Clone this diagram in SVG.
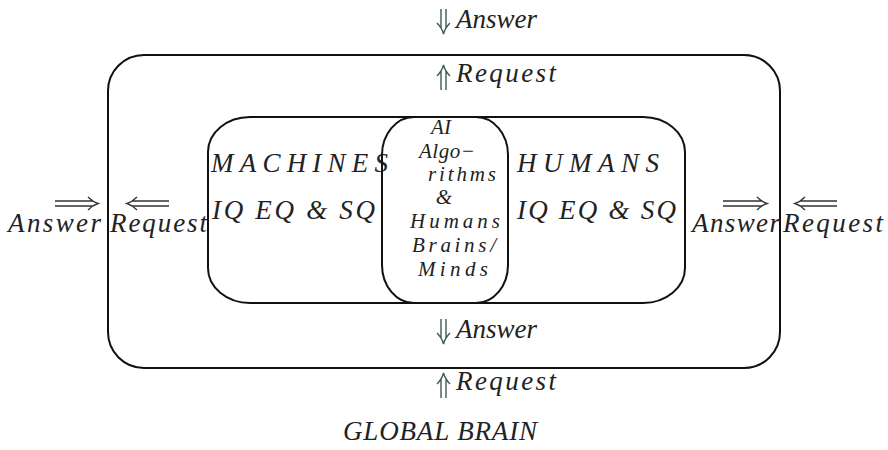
<svg xmlns="http://www.w3.org/2000/svg" width="888" height="450" viewBox="0 0 888 450">
<style>
.box{fill:none;stroke:#111;stroke-width:2}
.arr{fill:none;stroke:#333;stroke-width:1.4}
.varr{fill:none;stroke:#3d5e50;stroke-width:1.4}
</style>
<rect width="888" height="450" fill="#fff"/>
<g font-family="Liberation Serif" font-style="italic" font-size="27" fill="#222">
<g id="global-brain">
<rect class="box" x="108" y="55" width="672" height="313" rx="36" ry="36"/>
<text x="343" y="440" textLength="194" lengthAdjust="spacing">GLOBAL BRAIN</text>
</g>
<g id="inner">
<rect class="box" x="208" y="117" width="477" height="186" rx="42" ry="35"/>
</g>
<g id="machines">
<text x="211" y="172" textLength="177" lengthAdjust="spacing">MACHINES</text>
<text x="212" y="219" textLength="163" lengthAdjust="spacing">IQ EQ &amp; SQ</text>
</g>
<g id="humans">
<text x="517" y="172" textLength="142" lengthAdjust="spacing">HUMANS</text>
<text x="517" y="219" textLength="159" lengthAdjust="spacing">IQ EQ &amp; SQ</text>
</g>
<g id="ai-core" font-size="21">
<rect class="box" x="382" y="117" width="126" height="186" rx="32" ry="38"/>
<text x="441" y="134" text-anchor="middle">AI</text>
<text x="419" y="158" textLength="56" lengthAdjust="spacing">Algo−</text>
<text x="428" y="181" textLength="68" lengthAdjust="spacing">rithms</text>
<text x="444" y="204" text-anchor="middle">&amp;</text>
<text x="410" y="228" textLength="90" lengthAdjust="spacing">Humans</text>
<text x="412" y="252" textLength="84" lengthAdjust="spacing">Brains/</text>
<text x="418" y="276" textLength="70" lengthAdjust="spacing">Minds</text>
</g>
<g id="labels">
<text x="456" y="28" textLength="81" lengthAdjust="spacing">Answer</text>
<text x="456" y="82" textLength="100" lengthAdjust="spacing">Request</text>
<text x="456" y="338" textLength="81" lengthAdjust="spacing">Answer</text>
<text x="456" y="390" textLength="100" lengthAdjust="spacing">Request</text>
<text x="8" y="232" textLength="93" lengthAdjust="spacing">Answer</text>
<text x="110" y="232" textLength="97" lengthAdjust="spacing">Request</text>
<text x="692" y="232" textLength="88" lengthAdjust="spacing">Answer</text>
<text x="783" y="232" textLength="100" lengthAdjust="spacing">Request</text>
</g>
</g>
<g id="connectors">
<path class="varr" d="M441,9 V28 M446,9 V28 M437,23 Q442,28 443.5,34 Q445,28 450,23"/>
<path class="varr" d="M441,319 V338 M446,319 V338 M437,333 Q442,338 443.5,344 Q445,338 450,333"/>
<path class="varr" d="M441,71 V90 M446,71 V90 M437,76 Q442,71 443.5,65 Q445,71 450,76"/>
<path class="varr" d="M441,379 V398 M446,379 V398 M437,384 Q442,379 443.5,373 Q445,379 450,384"/>
<path class="arr" d="M55,201 H93 M55,206 H93 M88,197 Q93,202 98,203.5 Q93,205 88,210"/>
<path class="arr" d="M723,201 H762 M723,206 H762 M757,197 Q762,202 767,203.5 Q762,205 757,210"/>
<path class="arr" d="M132,201 H169 M132,206 H169 M137,197 Q132,202 127,203.5 Q132,205 137,210"/>
<path class="arr" d="M800,201 H837 M800,206 H837 M805,197 Q800,202 795,203.5 Q800,205 805,210"/>
</g>
</svg>
